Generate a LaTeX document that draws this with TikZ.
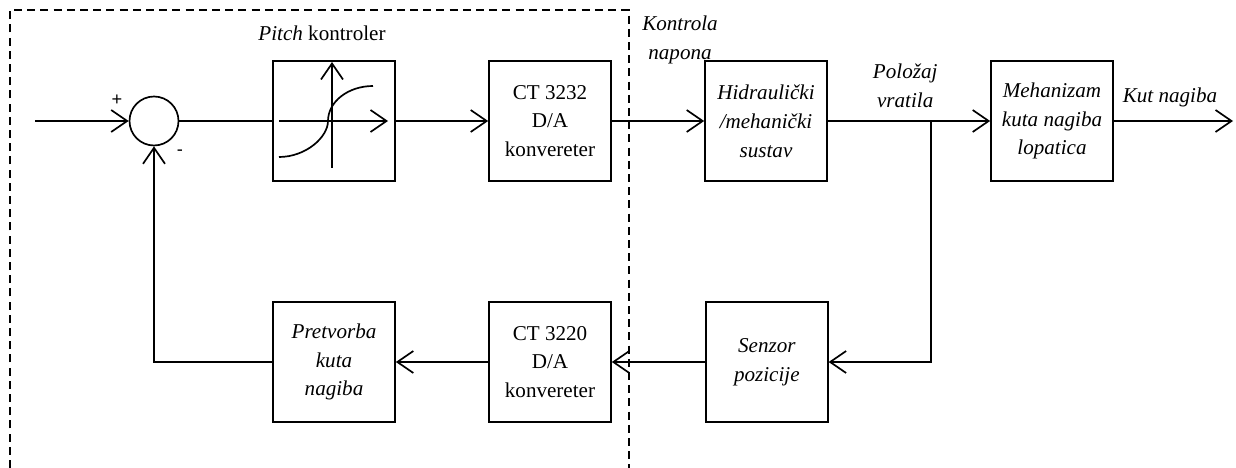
\documentclass[tikz,border=0pt]{standalone}
\usepackage{fontspec}
\setmainfont{Liberation Serif}
\newfontfamily\signfont{Liberation Sans}
\usetikzlibrary{arrows.meta}
\begin{document}
\begin{tikzpicture}
      % Define styles for nodes
      \tikzstyle{block} = [draw, rectangle, line width=1.2pt,
      minimum width=3.05cm, minimum height=3cm, align=center,
      font=\fontsize{15}{20.5}\selectfont]
      \tikzstyle{tag} = [align=center, font=\fontsize{15}{20.5}\selectfont\itshape]
      \tikzstyle{flow} = [line width=1.2pt, -{Straight Barb[length=0.4cm,width=0.55cm]}]
      \tikzstyle{sign} = [font=\fontsize{13}{15}\signfont]

      \useasboundingbox (0,0) rectangle (30.9,-11.7);

      % Dashed frame of the controller
      \draw[line width=1.2pt, dash pattern=on 0.2cm off 0.13cm]
      (0.25,-11.7) -- (0.25,-0.25) -- (15.72,-0.25) -- (15.72,-11.7);

      % Top row
      \node[draw, circle, line width=1.2pt, minimum size=1.225cm, inner sep=0pt] (sum) at (3.85,-3.025) {};
      \node[block] (pitch) at (8.35,-3.025) {};
      \node[block] (ct1) at (13.75,-3.025) {CT 3232\\D/A\\konvereter};
      \node[block] (hidr) at (19.15,-3.025) {\itshape Hidraulički\\\itshape /mehanički\\\itshape sustav};
      \node[block] (meh) at (26.3,-3.025) {\itshape Mehanizam\\\itshape kuta nagiba\\\itshape lopatica};

      % Bottom row
      \node[block] (pretv) at (8.35,-9.05) {\itshape Pretvorba\\\itshape kuta\\\itshape nagiba};
      \node[block] (ct2) at (13.75,-9.05) {CT 3220\\D/A\\konvereter};
      \node[block] (senz) at (19.17,-9.05) {\itshape Senzor\\\itshape pozicije};

      % Free ends and branch point
      \coordinate (in) at (0.875,-3.025);
      \coordinate (out) at (30.825,-3.025);
      \coordinate (br) at (23.275,-3.025);

      % Labels
      \node[tag] (ptitle) at (8.05,-0.825) {Pitch \upshape kontroler};
      \node[tag] (napon) at (17.0,-1.0) {Kontrola\\napona};
      \node[tag] (polozaj) at (22.63,-2.15) {Položaj\\vratila};
      \node[tag] (kut) at (29.25,-2.425) {Kut nagiba};
      \node[sign] (plus) at (2.925,-2.5) {+};
      \node[sign] (minus) at (4.5,-3.825) {-};

      % Sigmoid inside the pitch block
      \begin{scope}[shift={(pitch.center)}, line width=1.2pt]
        \draw[flow] (-0.05,-1.175) -- (-0.05,1.475);
        \draw[flow] (-1.375,0) -- (1.35,0);
        \draw (-1.375,-0.9) .. controls (-0.7,-0.9) and (-0.15,-0.4) .. (-0.15,0)
        .. controls (-0.15,0.48) and (0.35,0.875) .. (0.975,0.875);
      \end{scope}

      % Connections
      \draw[flow] (in) -- (sum);
      \draw[line width=1.2pt] (sum) -- (pitch);
      \draw[flow] (pitch) -- (ct1);
      \draw[flow] (ct1) -- (hidr);
      \draw[flow] (hidr) -- (meh);
      \draw[flow] (meh) -- (out);
      \draw[flow] (br) |- (senz);
      \draw[flow] (senz) -- (ct2);
      \draw[flow] (ct2) -- (pretv);
      \draw[flow] (pretv) -| (sum);
    \end{tikzpicture}
\end{document}
